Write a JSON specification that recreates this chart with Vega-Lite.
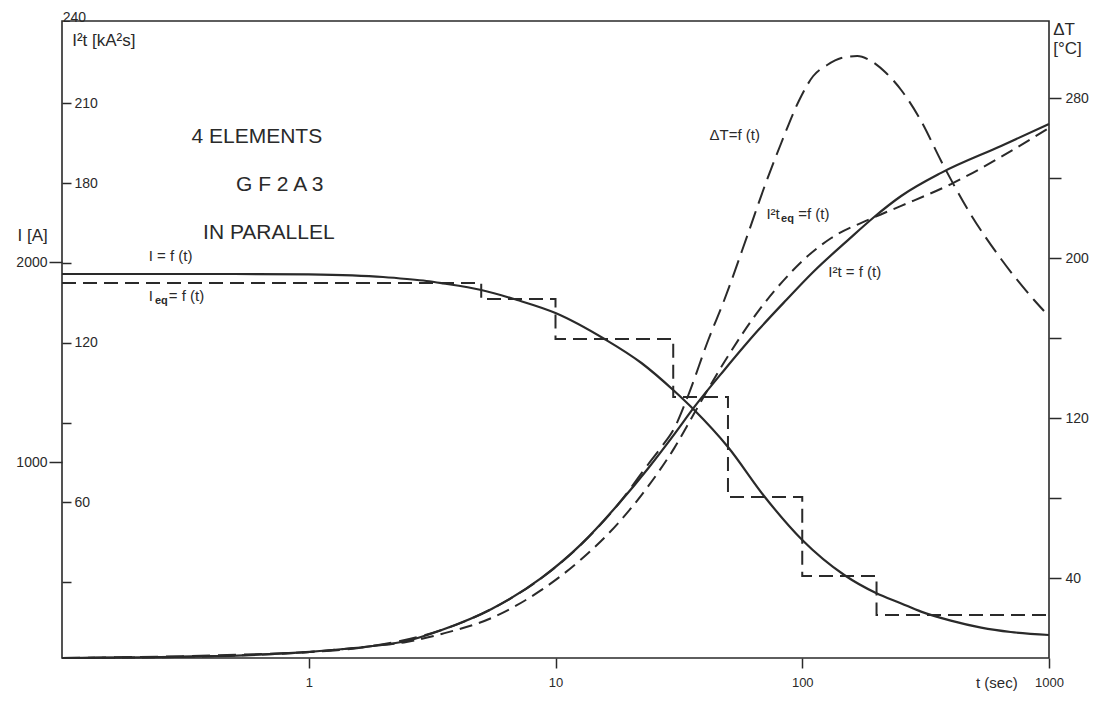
{
  "$schema": "https://vega.github.io/schema/vega-lite/v6.json",
  "width": 987,
  "height": 637,
  "autosize": "none",
  "padding": {"left": 62, "top": 21, "right": 46, "bottom": 45},
  "background": "white",
  "datasets": {
    "I": [
      {"t": 0.1, "v": 1940}, {"t": 0.5, "v": 1940}, {"t": 1, "v": 1938}, {"t": 1.5, "v": 1933},
      {"t": 2, "v": 1925}, {"t": 2.5, "v": 1915}, {"t": 3, "v": 1905}, {"t": 3.5, "v": 1893},
      {"t": 5, "v": 1860}, {"t": 7, "v": 1810}, {"t": 10, "v": 1745}, {"t": 15.8, "v": 1615},
      {"t": 22.3, "v": 1495}, {"t": 30.3, "v": 1355}, {"t": 36.5, "v": 1260}, {"t": 50, "v": 1075},
      {"t": 70, "v": 830}, {"t": 100, "v": 610}, {"t": 148, "v": 435}, {"t": 199, "v": 345},
      {"t": 252, "v": 293}, {"t": 303, "v": 252}, {"t": 400, "v": 207}, {"t": 531, "v": 172},
      {"t": 700, "v": 150}, {"t": 1000, "v": 135}
    ],
    "Ieq": [
      {"t": 0.1, "v": 1895}, {"t": 5, "v": 1815}, {"t": 10, "v": 1615}, {"t": 30, "v": 1325},
      {"t": 50, "v": 825}, {"t": 100, "v": 430}, {"t": 200, "v": 235}, {"t": 1000, "v": 235}
    ],
    "I2t": [
      {"t": 0.1, "v": 1.5}, {"t": 0.369, "v": 2.1}, {"t": 1.01, "v": 3.8}, {"t": 1.815, "v": 6.0},
      {"t": 2.49, "v": 7.9}, {"t": 3.456, "v": 12.05}, {"t": 5.507, "v": 19.95}, {"t": 8.776, "v": 31.6},
      {"t": 12.75, "v": 44.4}, {"t": 17.99, "v": 59.4}, {"t": 23.8, "v": 72.95}, {"t": 30.33, "v": 85.7},
      {"t": 36.54, "v": 95.9}, {"t": 48.32, "v": 109.8}, {"t": 66.35, "v": 124.8}, {"t": 86.13, "v": 136.1},
      {"t": 111.8, "v": 147.0}, {"t": 153.6, "v": 158.7}, {"t": 195.6, "v": 167.3}, {"t": 251.7, "v": 175.2},
      {"t": 365.4, "v": 183.9}, {"t": 639.3, "v": 194.0}, {"t": 1000, "v": 202.3}
    ],
    "I2teq": [
      {"t": 0.1, "v": 1.5}, {"t": 0.369, "v": 2.1}, {"t": 1.01, "v": 3.8}, {"t": 1.815, "v": 6.0},
      {"t": 2.49, "v": 7.55}, {"t": 3.456, "v": 10.55}, {"t": 5.507, "v": 16.56}, {"t": 8.776, "v": 27.1},
      {"t": 12.75, "v": 38.7}, {"t": 17.99, "v": 52.3}, {"t": 23.8, "v": 66.2}, {"t": 30.33, "v": 80.5},
      {"t": 36.54, "v": 93.6}, {"t": 48.32, "v": 112.8}, {"t": 66.96, "v": 132.4}, {"t": 90.25, "v": 146.6},
      {"t": 99.08, "v": 150.4}, {"t": 131.1, "v": 159.4}, {"t": 185, "v": 166.2}, {"t": 214.8, "v": 168.8},
      {"t": 251.7, "v": 171.5}, {"t": 401.1, "v": 179.7}, {"t": 639.3, "v": 189.9}, {"t": 1000, "v": 200.8}
    ],
    "dT": [
      {"t": 0.1, "v": 0}, {"t": 1.01, "v": 3}, {"t": 1.815, "v": 6}, {"t": 3.456, "v": 14},
      {"t": 5.507, "v": 24.5}, {"t": 8.776, "v": 40}, {"t": 12.75, "v": 57}, {"t": 17.99, "v": 77},
      {"t": 23.8, "v": 97}, {"t": 26.86, "v": 105.5}, {"t": 30.33, "v": 115}, {"t": 34.55, "v": 131.5},
      {"t": 41.6, "v": 159}, {"t": 48.3, "v": 179}, {"t": 60.4, "v": 212.5}, {"t": 70.2, "v": 235.5},
      {"t": 82.2, "v": 257.5}, {"t": 97.3, "v": 279}, {"t": 110.8, "v": 291}, {"t": 126.2, "v": 296.5},
      {"t": 143.9, "v": 300}, {"t": 167, "v": 301}, {"t": 190.3, "v": 298.5}, {"t": 218.8, "v": 292.5},
      {"t": 251.7, "v": 284}, {"t": 303.3, "v": 268.5}, {"t": 365.4, "v": 248.5}, {"t": 469.9, "v": 224},
      {"t": 639.3, "v": 199.5}, {"t": 869.8, "v": 179}, {"t": 954.5, "v": 173.5}
    ],
    "big": [
      {"t": 0.616, "v": 197.4, "label": "4 ELEMENTS"},
      {"t": 0.763, "v": 179.3, "label": "G F 2 A 3"},
      {"t": 0.689, "v": 161.3, "label": "IN PARALLEL"}
    ],
    "labels": [
      {"t": 0.2247, "v": 152.5, "label": "I = f (t)"},
      {"t": 0.2247, "v": 137.6, "label": "I"},
      {"t": 0.271, "v": 137.6, "label": "= f (t)"},
      {"t": 42.1, "v": 198.1, "label": "ΔT=f (t)"},
      {"t": 71.6, "v": 168.4, "label": "I²t"},
      {"t": 96.3, "v": 168.4, "label": "=f (t)"},
      {"t": 127.5, "v": 146.6, "label": "I²t = f (t)"},
      {"t": 506, "v": -7.9, "label": "t (sec)"}
    ],
    "titles": [
      {"t": 0.110, "v": 233.5, "label": "I²t [kA²s]"},
      {"t": 0.066, "v": 160.2, "label": "I [A]"},
      {"t": 1040, "v": 237.6, "label": "ΔT"},
      {"t": 1040, "v": 230.3, "label": "[°C]"}
    ],
    "subs": [
      {"t": 0.238, "v": 135.7, "label": "eq"},
      {"t": 82.1, "v": 166.6, "label": "eq"}
    ],
    "small": [
      {"t": 0.1006, "v": 242.2, "label": "240"}
    ]
  },
  "encoding": {
    "x": {
      "field": "t", "type": "quantitative",
      "scale": {"type": "log", "domain": [0.1, 1000], "nice": false},
      "axis": {"orient": "bottom", "values": [1, 10, 100, 1000], "format": "d", "title": null,
               "tickSize": 10, "labelPadding": 8, "labelFontSize": 13, "labelFlush": false}
    }
  },
  "layer": [
    {
      "data": {"name": "I"},
      "mark": {"type": "line", "color": "#2a2a2a", "strokeWidth": 2.2, "interpolate": "monotone"},
      "encoding": {
        "y": {"field": "v", "type": "quantitative",
              "scale": {"domain": [20, 3205], "nice": false, "zero": false},
              "axis": {"orient": "left", "values": [1000, 2000], "format": "d", "title": null, "tickSize": 13,
                       "labelPadding": 2, "labelFontSize": 14}}
      }
    },
    {
      "data": {"name": "Ieq"},
      "mark": {"type": "line", "color": "#2a2a2a", "strokeWidth": 2, "strokeDash": [14, 7], "interpolate": "step-after"},
      "encoding": {
        "y": {"field": "v", "type": "quantitative",
              "scale": {"domain": [20, 3205], "nice": false, "zero": false}, "axis": null}
      }
    },
    {
      "data": {"name": "I2t"},
      "mark": {"type": "line", "color": "#2a2a2a", "strokeWidth": 2.2, "interpolate": "monotone"},
      "encoding": {
        "y": {"field": "v", "type": "quantitative",
              "scale": {"domain": [1.5, 241], "nice": false, "zero": false},
              "axis": {"orient": "right", "offset": -987, "values": [30, 60, 90, 120, 150, 180, 210],
                       "labelExpr": "datum.value == 30 || datum.value == 90 || datum.value == 150 ? '' : datum.label",
                       "title": null, "tickSize": 9, "labelPadding": 3, "labelFontSize": 14}}
      }
    },
    {
      "data": {"name": "I2teq"},
      "mark": {"type": "line", "color": "#2a2a2a", "strokeWidth": 2, "strokeDash": [13, 7], "interpolate": "monotone"},
      "encoding": {
        "y": {"field": "v", "type": "quantitative",
              "scale": {"domain": [1.5, 241], "nice": false, "zero": false}, "axis": null}
      }
    },
    {
      "data": {"name": "dT"},
      "mark": {"type": "line", "color": "#2a2a2a", "strokeWidth": 2, "strokeDash": [18, 8], "interpolate": "monotone"},
      "encoding": {
        "y": {"field": "v", "type": "quantitative",
              "scale": {"domain": [0, 318.5], "nice": false, "zero": false},
              "axis": {"orient": "right", "values": [40, 80, 120, 160, 200, 240, 280],
                       "labelExpr": "datum.value % 80 == 0 ? '' : datum.label",
                       "title": null, "tickSize": 12, "labelPadding": 4, "labelFontSize": 14}}
      }
    },
    {
      "data": {"name": "big"},
      "mark": {"type": "text", "font": "Liberation Sans", "fontSize": 21, "align": "center", "baseline": "middle", "color": "#2a2a2a"},
      "encoding": {
        "y": {"field": "v", "type": "quantitative",
              "scale": {"domain": [1.5, 241], "nice": false, "zero": false}, "axis": null},
        "text": {"field": "label"}
      }
    },
    {
      "data": {"name": "labels"},
      "mark": {"type": "text", "font": "Liberation Sans", "fontSize": 15, "align": "left", "baseline": "middle", "color": "#2a2a2a"},
      "encoding": {
        "y": {"field": "v", "type": "quantitative",
              "scale": {"domain": [1.5, 241], "nice": false, "zero": false}, "axis": null},
        "text": {"field": "label"}
      }
    },
    {
      "data": {"name": "titles"},
      "mark": {"type": "text", "font": "Liberation Sans", "fontSize": 17, "align": "left", "baseline": "middle", "color": "#2a2a2a"},
      "encoding": {
        "y": {"field": "v", "type": "quantitative",
              "scale": {"domain": [1.5, 241], "nice": false, "zero": false}, "axis": null},
        "text": {"field": "label"}
      }
    },
    {
      "data": {"name": "subs"},
      "mark": {"type": "text", "font": "Liberation Sans", "fontSize": 11, "fontWeight": "bold", "align": "left", "baseline": "middle", "color": "#2a2a2a"},
      "encoding": {
        "y": {"field": "v", "type": "quantitative",
              "scale": {"domain": [1.5, 241], "nice": false, "zero": false}, "axis": null},
        "text": {"field": "label"}
      }
    },
    {
      "data": {"name": "small"},
      "mark": {"type": "text", "font": "Liberation Sans", "fontSize": 14, "align": "left", "baseline": "middle", "color": "#2a2a2a"},
      "encoding": {
        "y": {"field": "v", "type": "quantitative",
              "scale": {"domain": [1.5, 241], "nice": false, "zero": false}, "axis": null},
        "text": {"field": "label"}
      }
    }
  ],
  "resolve": {"scale": {"y": "independent"}, "axis": {"y": "independent"}},
  "config": {
    "view": {"stroke": "#2a2a2a", "strokeWidth": 1.6},
    "axis": {"grid": false, "domain": false, "labelFont": "Liberation Sans", "labelColor": "#2a2a2a",
             "tickColor": "#2a2a2a", "tickWidth": 1.5}
  }
}
